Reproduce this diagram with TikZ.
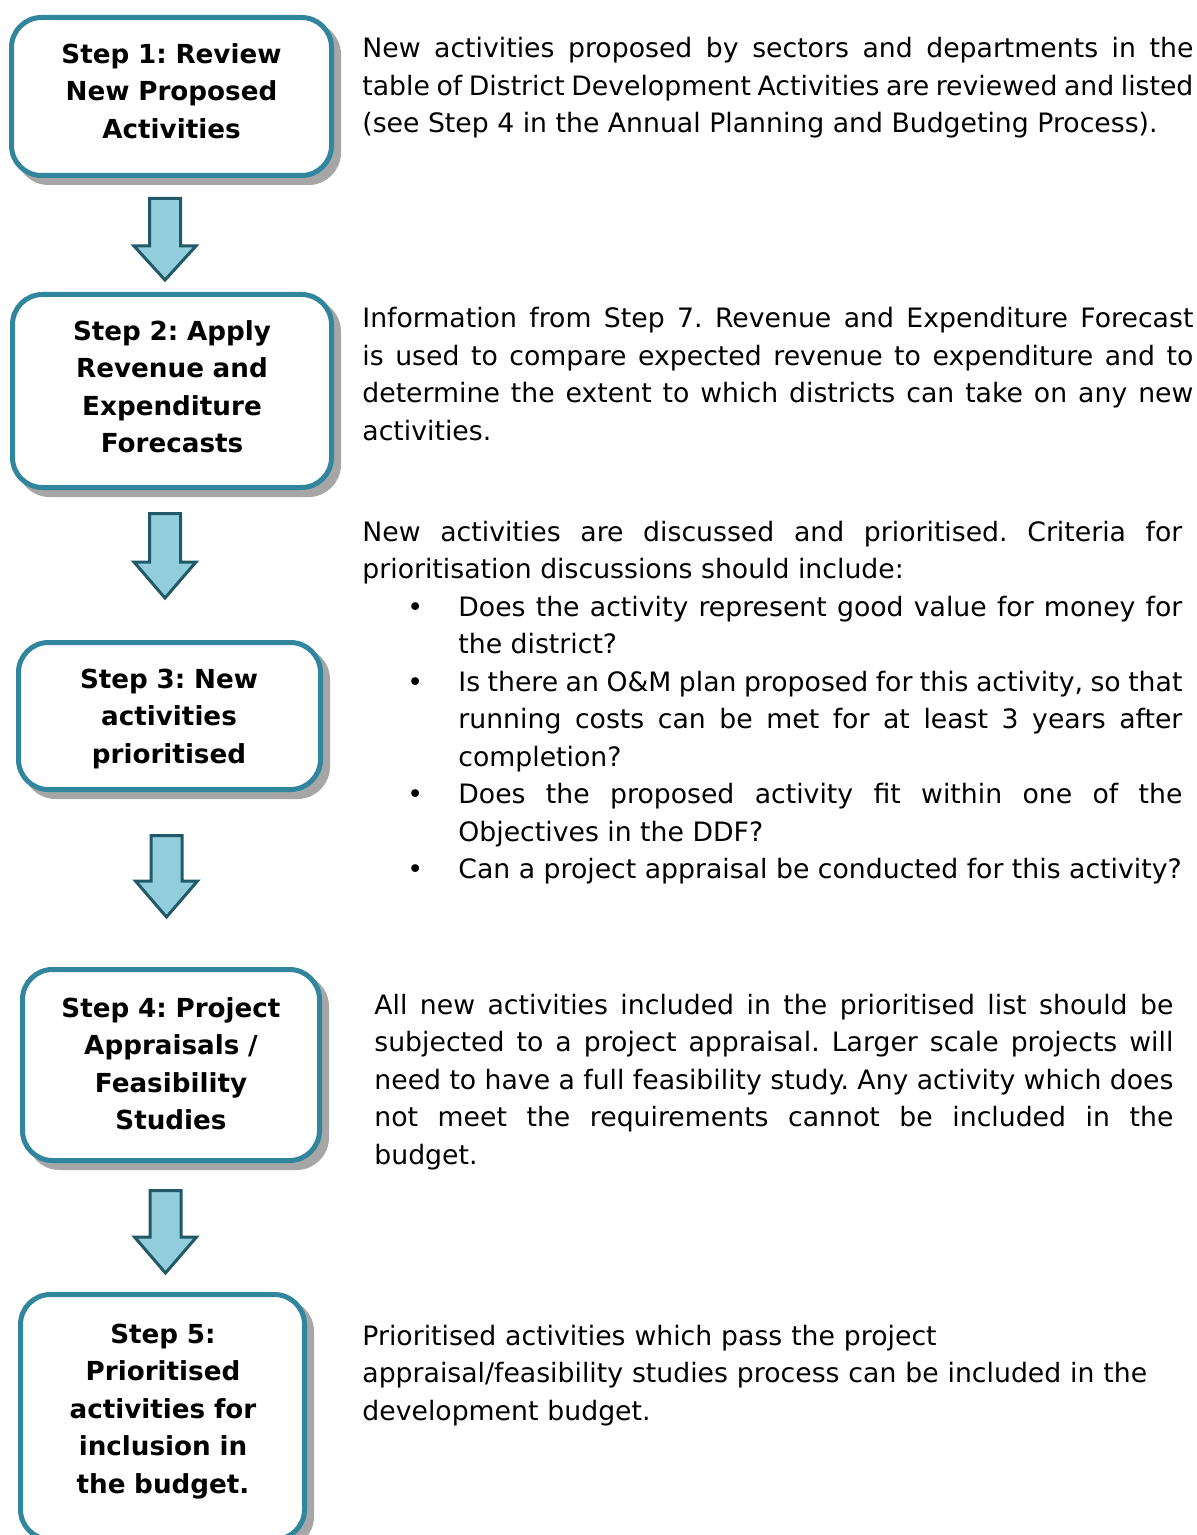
\documentclass[tikz,border=0pt]{standalone}
\usepackage{fontspec}
\setmainfont{DejaVu Sans}
\usetikzlibrary{shadows}
\frenchspacing

\definecolor{boxline}{HTML}{31859C}
\definecolor{boxshadow}{HTML}{A6A6A6}
\definecolor{arrowfill}{HTML}{92CDDC}
\definecolor{arrowline}{HTML}{215968}

\tikzset{
  stepbox/.style 2 args={draw=boxline, line width=2.5pt, fill=white, rounded corners=15pt,
    minimum width=#1*0.5pt, minimum height=#2*0.5pt, inner sep=0pt,
    drop shadow={shadow xshift=3.5pt, shadow yshift=-3.5pt, fill=boxshadow,
      draw=boxshadow, line width=2.5pt, opacity=1}},
  steptext/.style={anchor=base, inner sep=0pt, align=center, text width=150pt,
    font=\bfseries\fontsize{13.1}{18.7}\selectfont},
  desc/.style={anchor=base west, inner sep=0pt, align=justify, text width=#1*0.5pt,
    font=\fontsize{13.35}{18.75}\selectfont},
  blockarrow/.style={fill=arrowfill, draw=arrowline, line width=1.5pt, line join=miter}
}

% centre x, top, head base, tip
\newcommand{\stepArrow}[4]{%
  \draw[blockarrow] (#1-15.5,#2) -- (#1+15.5,#2) -- (#1+15.5,#3) -- (#1+31,#3)
    -- (#1,#4) -- (#1-31,#3) -- (#1-15.5,#3) -- cycle;}

\begin{document}
\begin{tikzpicture}[x=0.5pt,y=-0.5pt]
  \useasboundingbox (0,0) rectangle (1196,1535);

  % steps
  \node[stepbox={320}{158}] (s1) at (171.5,96.5) {};
  \node[stepbox={319}{193}] (s2) at (172,391) {};
  \node[stepbox={302}{147}] (s3) at (169.5,716) {};
  \node[stepbox={297}{191}] (s4) at (171,1065) {};
  \node[stepbox={284}{245}] (s5) at (162.5,1417) {};

  \node[steptext] (t1) at (171.5,63.5) {Step 1: Review\\New Proposed\\Activities};
  \node[steptext] (t2) at (172,340.5) {Step 2: Apply\\Revenue and\\Expenditure\\Forecasts};
  \node[steptext] (t3) at (169,688.5) {Step 3: New\\activities\\prioritised};
  \node[steptext] (t4) at (171,1017.5) {Step 4: Project\\Appraisals /\\Feasibility\\Studies};
  \node[steptext] (t5) at (163,1343.5) {Step 5:\\Prioritised\\activities for\\inclusion in\\the budget.};

  \stepArrow{165}{198.5}{246}{280}
  \stepArrow{165}{513.5}{562}{598}
  \stepArrow{166.5}{835.5}{881}{917}
  \stepArrow{165.5}{1190.5}{1237}{1273}

  % descriptions
  \node[desc=831] (d1) at (362,58) {New activities proposed by sectors and departments in the\linebreak
    table of District Development Activities are reviewed and listed\linebreak
    (see Step 4 in the Annual Planning and Budgeting Process).};
  \node[desc=831] (d2) at (362,328) {Information from Step 7. Revenue and Expenditure Forecast\linebreak
    is used to compare expected revenue to expenditure and to\linebreak
    determine the extent to which districts can take on any new\linebreak
    activities.};
  \node[desc=820] (d3) at (362,541) {New activities are discussed and prioritised. Criteria for\linebreak
    prioritisation discussions should include:\par
    \leftskip=48pt\parskip=0pt
    \noindent\llap{•\hskip 17.7pt}Does the activity represent good value for money for\linebreak
    the district?\par
    \noindent\llap{•\hskip 17.7pt}Is there an O\&M plan proposed for this activity, so that\linebreak
    running costs can be met for at least 3 years after\linebreak
    completion?\par
    \noindent\llap{•\hskip 17.7pt}Does the proposed activity fit within one of the\linebreak
    Objectives in the DDF?\par
    \noindent\llap{•\hskip 17.7pt}Can a project appraisal be conducted for this activity?\par};
  \node[desc=799] (d4) at (374,1014) {All new activities included in the prioritised list should be\linebreak
    subjected to a project appraisal. Larger scale projects will\linebreak
    need to have a full feasibility study. Any activity which does\linebreak
    not meet the requirements cannot be included in the\linebreak
    budget.};
  \node[desc=831, align=left] (d5) at (362,1345) {Prioritised activities which pass the project\\
    appraisal/feasibility studies process can be included in the\\
    development budget.};
\end{tikzpicture}
\end{document}
